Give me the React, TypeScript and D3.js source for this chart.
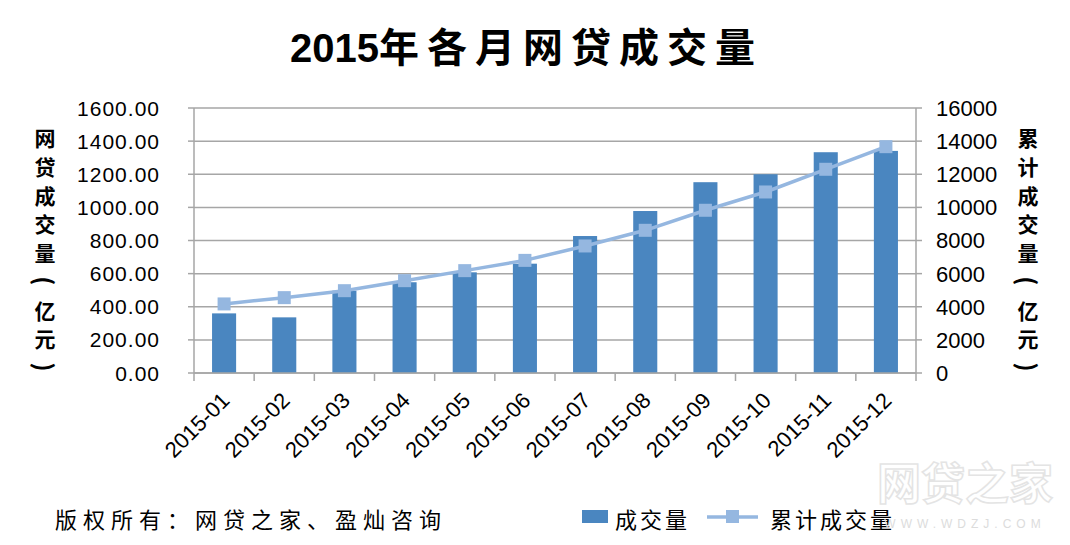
import React from "react";
import * as d3 from "d3";

const months = ["2015-01","2015-02","2015-03","2015-04","2015-05","2015-06","2015-07","2015-08","2015-09","2015-10","2015-11","2015-12"];
const volume = [360, 336, 497, 548, 608, 660, 827, 978, 1152, 1200, 1333, 1341];
const cumulative = [4170, 4550, 4970, 5575, 6180, 6800, 7670, 8615, 9825, 10930, 12300, 13665];
const leftTicks = [0, 200, 400, 600, 800, 1000, 1200, 1400, 1600];
const rightTicks = [0, 2000, 4000, 6000, 8000, 10000, 12000, 14000, 16000];
const title = "2015年各月网贷成交量";
const leftTitle = ["网","贷","成","交","量","(","亿","元",")"];
const rightTitle = ["累","计","成","交","量","(","亿","元",")"];
const footer = "版权所有：网贷之家、盈灿咨询";
const legendBar = "成交量";
const legendLine = "累计成交量";

const W = 1070, H = 545;
const PL = 194, PR = 916, PT = 108, PB = 373;
const BAR = "#4a86c0";
const LINE = "#95b7e0";
const GRID = "#a6a6a6";
const CJK = "'Noto Sans CJK SC', sans-serif";
const LAT = "'Liberation Sans', Arial, sans-serif";

function VChar({ c, x, y }: { c: string; x: number; y: number }) {
  const paren = c === "(" || c === ")";
  return (
    <text x={x} y={y} dominantBaseline="central" textAnchor="middle" fontSize={paren ? 24 : 21}
      fontWeight="bold" fontFamily={CJK} fill="#000"
      transform={paren ? `rotate(90 ${x} ${y})` : undefined}>{c}</text>
  );
}

export default function App() {
  const x = d3.scaleBand<string>().domain(months).range([PL, PR]).paddingInner(0).paddingOuter(0);
  const yL = d3.scaleLinear().domain([0, 1600]).range([PB, PT]);
  const yR = d3.scaleLinear().domain([0, 16000]).range([PB, PT]);
  const bw = x.bandwidth() * 0.4;
  const line = d3.line<number>()
    .x((_, i) => (x(months[i]) as number) + x.bandwidth() / 2)
    .y((d) => yR(d));
  const ms = 13;

  return (
    <svg width={W} height={H} style={{ position: "absolute", left: 0, top: 0, background: "#fff" }}>
      {/* title */}
      <text x={290} y={62} fontSize={40} fontWeight="bold" fill="#000" fontFamily={CJK}>
        <tspan fontFamily={LAT}>{title.slice(0, 4)}</tspan>
        <tspan letterSpacing={8}>{title.slice(4)}</tspan>
      </text>

      {/* gridlines */}
      {leftTicks.map((t) => (
        <line key={"g" + t} x1={PL} x2={PR} y1={yL(t)} y2={yL(t)} stroke={GRID} strokeWidth={1.5} />
      ))}
      {/* axes */}
      <line x1={PL} x2={PL} y1={PT} y2={PB} stroke={GRID} strokeWidth={1.5} />
      <line x1={PR} x2={PR} y1={PT} y2={PB} stroke={GRID} strokeWidth={1.5} />
      {leftTicks.map((t) => (
        <line key={"lt" + t} x1={PL - 6} x2={PL} y1={yL(t)} y2={yL(t)} stroke={GRID} strokeWidth={1.5} />
      ))}
      {rightTicks.map((t) => (
        <line key={"rt" + t} x1={PR} x2={PR + 6} y1={yR(t)} y2={yR(t)} stroke={GRID} strokeWidth={1.5} />
      ))}
      {months.map((m) => (
        <line key={"xt" + m} x1={x(m) as number} x2={x(m) as number} y1={PB} y2={PB + 8} stroke={GRID} strokeWidth={1.5} />
      ))}
      <line x1={PR} x2={PR} y1={PB} y2={PB + 8} stroke={GRID} strokeWidth={1.5} />

      {/* bars */}
      {volume.map((v, i) => (
        <rect key={"b" + i}
          x={(x(months[i]) as number) + (x.bandwidth() - bw) / 2}
          y={yL(v)} width={bw} height={PB - yL(v)} fill={BAR} />
      ))}
      <line x1={PL} x2={PR} y1={PB} y2={PB} stroke={GRID} strokeWidth={1.5} />

      {/* line */}
      <path d={line(cumulative) || ""} fill="none" stroke={LINE} strokeWidth={3.5} />
      {cumulative.map((v, i) => (
        <rect key={"m" + i}
          x={(x(months[i]) as number) + x.bandwidth() / 2 - ms / 2}
          y={yR(v) - ms / 2} width={ms} height={ms} fill={LINE} />
      ))}

      {/* left tick labels */}
      {leftTicks.map((t) => (
        <text key={"ll" + t} x={160} y={yL(t)} dy="0.36em" textAnchor="end" fontSize={21}
          letterSpacing={1} fontFamily={LAT} fill="#000">{t.toFixed(2)}</text>
      ))}
      {/* right tick labels */}
      {rightTicks.map((t) => (
        <text key={"rl" + t} x={936} y={yR(t)} dy="0.36em" textAnchor="start" fontSize={22}
          fontFamily={LAT} fill="#000">{String(t)}</text>
      ))}

      {/* axis titles */}
      {leftTitle.map((c, i) => (
        <VChar key={"lt" + i} c={c} x={45} y={137 + i * 28.75} />
      ))}
      {rightTitle.map((c, i) => (
        <VChar key={"rtt" + i} c={c} x={1028} y={137 + i * 28.75} />
      ))}

      {/* x labels */}
      {months.map((m) => {
        const cx = (x(m) as number) + x.bandwidth() / 2;
        return (
          <text key={"xl" + m} transform={`translate(${cx - 4},${PB + 18}) rotate(-45)`}
            textAnchor="end" dy="0.7em" fontSize={22} fontFamily={LAT} fill="#000">{m}</text>
        );
      })}

      {/* footer */}
      <text x={55} y={528} fontSize={22} letterSpacing={6} fontFamily={CJK} fill="#000">{footer}</text>

      {/* legend */}
      <rect x={582} y={510} width={26} height={13} fill={BAR} />
      <text x={615} y={528} fontSize={22} letterSpacing={3} fontFamily={CJK} fill="#000">{legendBar}</text>
      <line x1={707} x2={758} y1={517} y2={517} stroke={LINE} strokeWidth={3.5} />
      <rect x={726} y={510} width={13} height={13} fill={LINE} />
      <text x={770} y={528} fontSize={22} letterSpacing={3} fontFamily={CJK} fill="#000">{legendLine}</text>

      {/* watermark */}
      <text x={965} y={500} textAnchor="middle" fontSize={44} fontWeight="bold" fontFamily={CJK}
        fill="none" stroke="#e4e4e4" strokeWidth={1.5}>网贷之家</text>
      <text x={965} y={528} textAnchor="middle" fontSize={12} letterSpacing={5} fontFamily={LAT} fill="#dcdcdc">WWW.WDZJ.COM</text>
    </svg>
  );
}
